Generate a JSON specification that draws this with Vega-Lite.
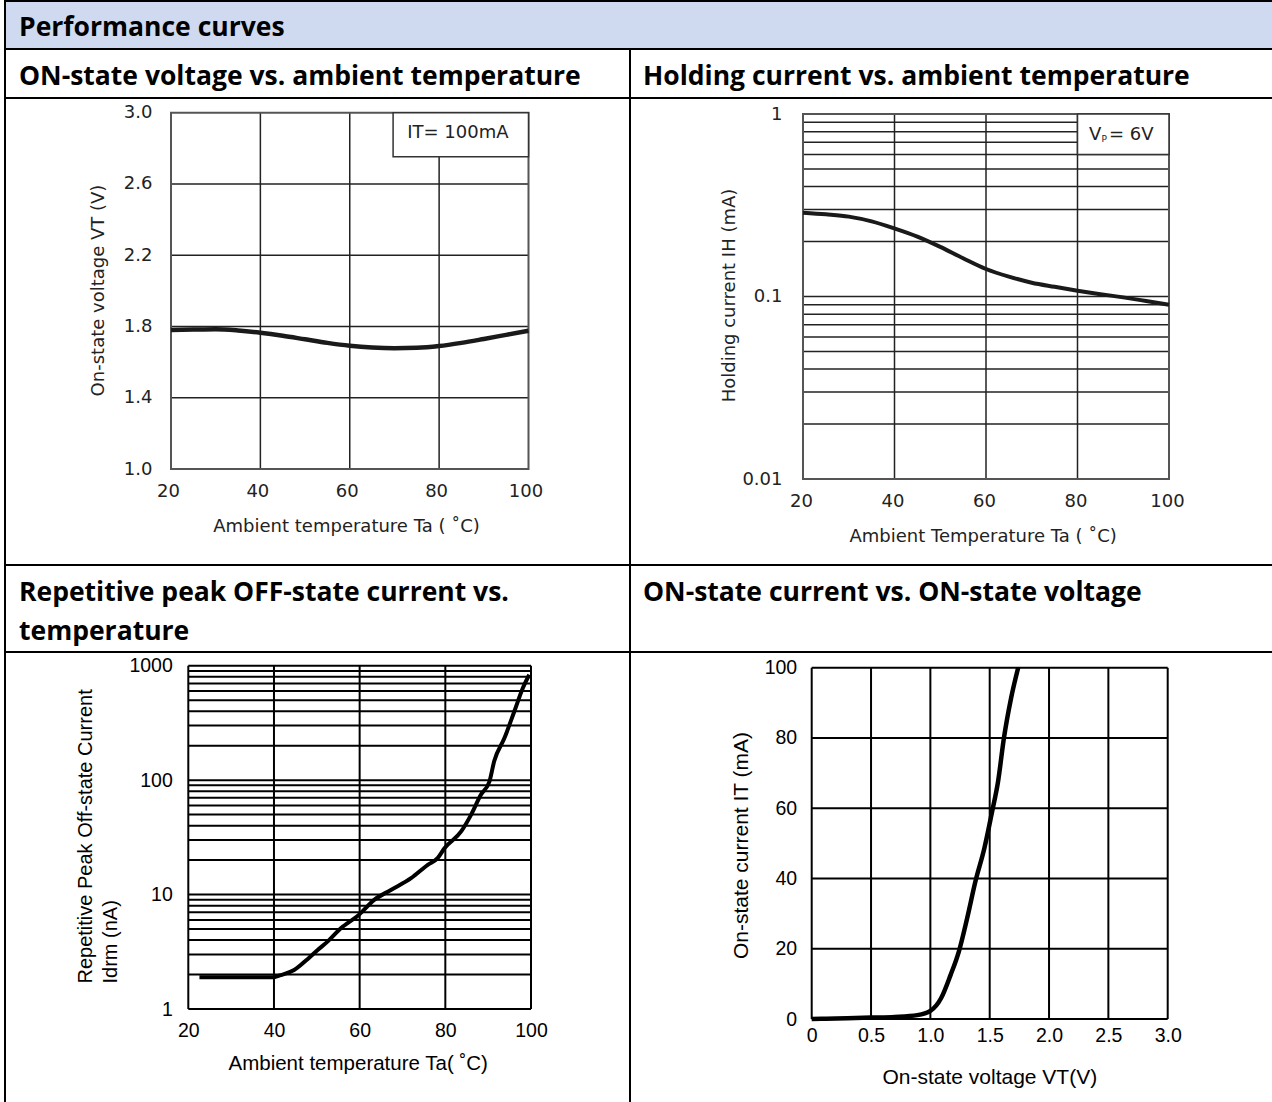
{
  "$schema": "https://vega.github.io/schema/vega-lite/v6.json",
  "background": "white",
  "autosize": {"type": "none"},
  "padding": {"left": 5, "top": 1, "right": 1267, "bottom": 1101},
  "config": {
    "view": {"stroke": "#000", "strokeWidth": 2},
    "title": {"font": "Open Sans", "fontWeight": "bold", "fontSize": 26.5, "color": "#000", "anchor": "start", "frame": "group", "baseline": "alphabetic", "offset": -41, "lineHeight": 39},
    "axis": {"grid": false, "domain": false, "ticks": false, "tickSize": 0, "labelFlush": false, "labelOverlap": false, "titleFontWeight": "normal", "labelColor": "#222", "titleColor": "#222", "labelFont": "DejaVu Sans", "titleFont": "DejaVu Sans", "labelFontSize": 18, "titleFontSize": 18}
  },
  "datasets": {
    "A_gx": [{"x": 40}, {"x": 60}, {"x": 80}],
    "A_gy": [{"y": 1.4}, {"y": 1.8}, {"y": 2.2}, {"y": 2.6}],
    "A_curve": [{"x": 20, "y": 1.78}, {"x": 25, "y": 1.783}, {"x": 30, "y": 1.785}, {"x": 35, "y": 1.778}, {"x": 40, "y": 1.765}, {"x": 45, "y": 1.748}, {"x": 50, "y": 1.728}, {"x": 55, "y": 1.708}, {"x": 60, "y": 1.692}, {"x": 65, "y": 1.682}, {"x": 70, "y": 1.678}, {"x": 75, "y": 1.68}, {"x": 80, "y": 1.69}, {"x": 85, "y": 1.708}, {"x": 90, "y": 1.73}, {"x": 95, "y": 1.753}, {"x": 100, "y": 1.776}],
    "B_gx": [{"x": 40}, {"x": 60}, {"x": 80}],
    "B_gy": [{"y": 0.02}, {"y": 0.03}, {"y": 0.04}, {"y": 0.05}, {"y": 0.06}, {"y": 0.07}, {"y": 0.08}, {"y": 0.09}, {"y": 0.1}, {"y": 0.2}, {"y": 0.3}, {"y": 0.4}, {"y": 0.5}, {"y": 0.6}, {"y": 0.7}, {"y": 0.8}, {"y": 0.9}],
    "B_curve": [{"x": 20, "y": 0.288}, {"x": 25, "y": 0.282}, {"x": 30, "y": 0.274}, {"x": 35, "y": 0.258}, {"x": 40, "y": 0.236}, {"x": 45, "y": 0.213}, {"x": 50, "y": 0.187}, {"x": 55, "y": 0.162}, {"x": 60, "y": 0.1415}, {"x": 65, "y": 0.1285}, {"x": 70, "y": 0.119}, {"x": 75, "y": 0.113}, {"x": 80, "y": 0.1076}, {"x": 85, "y": 0.103}, {"x": 90, "y": 0.0989}, {"x": 95, "y": 0.0945}, {"x": 100, "y": 0.0902}],
    "C_gx": [{"x": 20}, {"x": 40}, {"x": 60}, {"x": 80}, {"x": 100}],
    "C_gy": [{"y": 1}, {"y": 2}, {"y": 3}, {"y": 4}, {"y": 5}, {"y": 6}, {"y": 7}, {"y": 8}, {"y": 9}, {"y": 10}, {"y": 20}, {"y": 30}, {"y": 40}, {"y": 50}, {"y": 60}, {"y": 70}, {"y": 80}, {"y": 90}, {"y": 100}, {"y": 200}, {"y": 300}, {"y": 400}, {"y": 500}, {"y": 600}, {"y": 700}, {"y": 800}, {"y": 900}, {"y": 1000}],
    "C_curve": [{"x": 22.6, "y": 1.89}, {"x": 30, "y": 1.89}, {"x": 39.6, "y": 1.89}, {"x": 41.6, "y": 1.98}, {"x": 44.7, "y": 2.19}, {"x": 47.9, "y": 2.74}, {"x": 50.2, "y": 3.28}, {"x": 52.5, "y": 3.88}, {"x": 55.6, "y": 5.08}, {"x": 59.8, "y": 6.64}, {"x": 63.4, "y": 8.98}, {"x": 67.3, "y": 10.98}, {"x": 72, "y": 13.9}, {"x": 75.9, "y": 18.2}, {"x": 78.2, "y": 20.8}, {"x": 79.8, "y": 25.4}, {"x": 83.7, "y": 35.6}, {"x": 86, "y": 49.7}, {"x": 88.3, "y": 74.5}, {"x": 90.3, "y": 97.3}, {"x": 91.4, "y": 146}, {"x": 93.8, "y": 233}, {"x": 96.1, "y": 398}, {"x": 98.1, "y": 638}, {"x": 99.6, "y": 834}],
    "D_gx": [{"x": 0}, {"x": 0.5}, {"x": 1.0}, {"x": 1.5}, {"x": 2.0}, {"x": 2.5}, {"x": 3.0}],
    "D_gy": [{"y": 0}, {"y": 20}, {"y": 40}, {"y": 60}, {"y": 80}, {"y": 100}],
    "D_curve": [{"x": 0, "y": 0}, {"x": 0.1, "y": 0.1}, {"x": 0.3, "y": 0.2}, {"x": 0.5, "y": 0.4}, {"x": 0.7, "y": 0.6}, {"x": 0.89, "y": 1.1}, {"x": 1.0, "y": 2.3}, {"x": 1.09, "y": 5.9}, {"x": 1.17, "y": 12.5}, {"x": 1.24, "y": 19.2}, {"x": 1.31, "y": 28.7}, {"x": 1.38, "y": 39.2}, {"x": 1.455, "y": 48.6}, {"x": 1.52, "y": 59}, {"x": 1.57, "y": 67.5}, {"x": 1.62, "y": 80}, {"x": 1.68, "y": 91.3}, {"x": 1.74, "y": 100}]
  },
  "vconcat": [
    {
      "width": 1270, "height": 48,
      "view": {"fill": "#CFDAF0", "stroke": "#000", "strokeWidth": 2},
      "title": {"text": "Performance curves", "dx": 14, "offset": -40},
      "data": {"values": [{}]},
      "mark": {"type": "text"},
      "encoding": {"text": {"value": ""}}
    },
    {
      "hconcat": [
        {"width": 625, "height": 49, "view": {"stroke": "#000", "strokeWidth": 2}, "title": {"text": "ON-state voltage vs. ambient temperature", "dx": 14}, "data": {"values": [{}]}, "mark": {"type": "text"}, "encoding": {"text": {"value": ""}}},
        {"width": 645, "height": 49, "view": {"stroke": "#000", "strokeWidth": 2}, "title": {"text": "Holding current vs. ambient temperature", "dx": 13}, "data": {"values": [{}]}, "mark": {"type": "text"}, "encoding": {"text": {"value": ""}}}
      ],
      "spacing": 0, "bounds": "flush", "align": "none"
    },
    {
      "hconcat": [
        {
          "width": 625, "height": 467,
          "view": {"stroke": "#000", "strokeWidth": 2},
          "layer": [
            {
              "data": {"name": "A_gx"},
              "mark": {"type": "rule", "color": "#222", "strokeWidth": 1.5},
              "encoding": {
                "x": {"field": "x", "type": "quantitative",
                  "scale": {"domain": [20, 100], "range": [166, 523.5], "nice": false, "zero": false},
                  "axis": {"orient": "bottom", "offset": -96, "values": [20, 40, 60, 80, 100], "format": "d", "labelPadding": 13, "labelOffset": -3, "title": "Ambient temperature Ta ( ˚C)", "titleX": 341, "titleY": 57, "titleAlign": "center", "titleBaseline": "middle"}},
                "y": {"datum": 1.0, "type": "quantitative",
                  "scale": {"domain": [1, 3], "range": [371, 14.7], "nice": false, "zero": false},
                  "axis": {"orient": "left", "offset": -166, "values": [1.0, 1.4, 1.8, 2.2, 2.6, 3.0], "format": ".1f", "labelPadding": 19, "title": "On-state voltage VT (V)", "titleX": -73, "titleY": 192, "titleAngle": 270, "titleAlign": "center", "titleBaseline": "middle"}},
                "y2": {"datum": 3.0}
              }
            },
            {
              "data": {"name": "A_gy"},
              "mark": {"type": "rule", "color": "#222", "strokeWidth": 1.5},
              "encoding": {
                "y": {"field": "y", "type": "quantitative"},
                "x": {"datum": 20, "type": "quantitative"},
                "x2": {"datum": 100}
              }
            },
            {
              "data": {"values": [{}]},
              "mark": {"type": "rect", "fillOpacity": 0, "stroke": "#555", "strokeWidth": 2},
              "encoding": {"x": {"datum": 20, "type": "quantitative"}, "x2": {"datum": 100}, "y": {"datum": 1.0, "type": "quantitative"}, "y2": {"datum": 3.0}}
            },
            {
              "data": {"values": [{}]},
              "mark": {"type": "rect", "fill": "white", "stroke": "#333", "strokeWidth": 1.5},
              "encoding": {"x": {"datum": 69.7, "type": "quantitative"}, "x2": {"datum": 100}, "y": {"datum": 2.753, "type": "quantitative"}, "y2": {"datum": 3.0}}
            },
            {
              "data": {"values": [{"label": "IT= 100mA"}]},
              "mark": {"type": "text", "font": "DejaVu Sans", "fontSize": 18, "color": "#222", "align": "center", "baseline": "middle"},
              "encoding": {"text": {"field": "label"}, "x": {"datum": 84.2, "type": "quantitative"}, "y": {"datum": 2.884, "type": "quantitative"}}
            },
            {
              "data": {"name": "A_curve"},
              "mark": {"type": "line", "color": "#1a1a1a", "strokeWidth": 4.5, "interpolate": "monotone"},
              "encoding": {"x": {"field": "x", "type": "quantitative"}, "y": {"field": "y", "type": "quantitative"}}
            }
          ]
        },
        {
          "width": 645, "height": 467,
          "view": {"stroke": "#000", "strokeWidth": 2},
          "layer": [
            {
              "data": {"name": "B_gx"},
              "mark": {"type": "rule", "color": "#222", "strokeWidth": 1.5},
              "encoding": {
                "x": {"field": "x", "type": "quantitative",
                  "scale": {"domain": [20, 100], "range": [173, 539], "nice": false, "zero": false},
                  "axis": {"orient": "bottom", "offset": -86, "values": [20, 40, 60, 80, 100], "format": "d", "labelPadding": 13, "labelOffset": -2, "title": "Ambient Temperature Ta ( ˚C)", "titleX": 352.7, "titleY": 57.7, "titleAlign": "center", "titleBaseline": "middle"}},
                "y": {"datum": 0.01, "type": "quantitative",
                  "scale": {"type": "log", "domain": [0.01, 1], "range": [381, 16], "nice": false},
                  "axis": {"orient": "left", "offset": -173, "values": [0.01, 0.1, 1], "labelExpr": "datum.value >= 0.99 ? '1' : datum.value >= 0.099 ? '0.1' : '0.01'", "labelPadding": 21, "title": "Holding current IH (mA)", "titleX": -74, "titleY": 197, "titleAngle": 270, "titleAlign": "center", "titleBaseline": "middle"}},
                "y2": {"datum": 1}
              }
            },
            {
              "data": {"name": "B_gy"},
              "mark": {"type": "rule", "color": "#222", "strokeWidth": 1.5},
              "encoding": {
                "y": {"field": "y", "type": "quantitative"},
                "x": {"datum": 20, "type": "quantitative"},
                "x2": {"datum": 100}
              }
            },
            {
              "data": {"values": [{}]},
              "mark": {"type": "rect", "fillOpacity": 0, "stroke": "#555", "strokeWidth": 2},
              "encoding": {"x": {"datum": 20, "type": "quantitative"}, "x2": {"datum": 100}, "y": {"datum": 0.01, "type": "quantitative"}, "y2": {"datum": 1}}
            },
            {
              "data": {"values": [{}]},
              "mark": {"type": "rect", "fill": "white", "stroke": "#333", "strokeWidth": 1.5},
              "encoding": {"x": {"datum": 80, "type": "quantitative"}, "x2": {"datum": 100}, "y": {"datum": 0.6, "type": "quantitative"}, "y2": {"datum": 1}}
            },
            {
              "data": {"values": [{"label": "V"}]},
              "mark": {"type": "text", "font": "DejaVu Sans", "fontSize": 18, "color": "#222", "align": "left", "baseline": "middle"},
              "encoding": {"text": {"field": "label"}, "x": {"datum": 82.5, "type": "quantitative"}, "y": {"datum": 0.767, "type": "quantitative"}}
            },
            {
              "data": {"values": [{"label": "P"}]},
              "mark": {"type": "text", "font": "DejaVu Sans", "fontSize": 9, "color": "#222", "align": "left", "baseline": "middle", "dx": 12.5, "dy": 4},
              "encoding": {"text": {"field": "label"}, "x": {"datum": 82.5, "type": "quantitative"}, "y": {"datum": 0.767, "type": "quantitative"}}
            },
            {
              "data": {"values": [{"label": "= 6V"}]},
              "mark": {"type": "text", "font": "DejaVu Sans", "fontSize": 18, "color": "#222", "align": "left", "baseline": "middle", "dx": 20},
              "encoding": {"text": {"field": "label"}, "x": {"datum": 82.5, "type": "quantitative"}, "y": {"datum": 0.767, "type": "quantitative"}}
            },
            {
              "data": {"name": "B_curve"},
              "mark": {"type": "line", "color": "#1a1a1a", "strokeWidth": 4, "interpolate": "monotone"},
              "encoding": {"x": {"field": "x", "type": "quantitative"}, "y": {"field": "y", "type": "quantitative"}}
            }
          ]
        }
      ],
      "spacing": 0, "bounds": "flush", "align": "none"
    },
    {
      "hconcat": [
        {"width": 625, "height": 87, "view": {"stroke": "#000", "strokeWidth": 2}, "title": {"text": ["Repetitive peak OFF-state current vs.", "temperature"], "dx": 14, "offset": -80}, "data": {"values": [{}]}, "mark": {"type": "text"}, "encoding": {"text": {"value": ""}}},
        {"width": 645, "height": 87, "view": {"stroke": "#000", "strokeWidth": 2}, "title": {"text": "ON-state current vs. ON-state voltage", "dx": 13}, "data": {"values": [{}]}, "mark": {"type": "text"}, "encoding": {"text": {"value": ""}}}
      ],
      "spacing": 0, "bounds": "flush", "align": "none"
    },
    {
      "hconcat": [
        {
          "width": 625, "height": 452,
          "view": {"stroke": "#000", "strokeWidth": 2},
          "layer": [
            {
              "data": {"name": "C_gx"},
              "mark": {"type": "rule", "color": "#000", "strokeWidth": 2},
              "encoding": {
                "x": {"field": "x", "type": "quantitative",
                  "scale": {"domain": [20, 100], "range": [183.3, 526], "nice": false, "zero": false},
                  "axis": {"orient": "bottom", "offset": -95, "values": [20, 40, 60, 80, 100], "format": "d", "labelPadding": 12, "labelFont": "Liberation Sans", "labelFontSize": 19.5, "labelColor": "#000", "title": "Ambient temperature Ta( ˚C)", "titleFont": "Liberation Sans", "titleFontSize": 20.5, "titleColor": "#000", "titleX": 352.7, "titleY": 54, "titleAlign": "center", "titleBaseline": "middle"}},
                "y": {"datum": 1, "type": "quantitative",
                  "scale": {"type": "log", "domain": [1, 1000], "range": [357, 13.7], "nice": false},
                  "axis": {"orient": "left", "offset": -183.3, "values": [1, 10, 100, 1000], "format": "d", "labelPadding": 16, "labelFont": "Liberation Sans", "labelFontSize": 19.5, "labelColor": "#000", "title": ["Repetitive Peak Off-state Current", "Idrm (nA)"], "titleFont": "Liberation Sans", "titleFontSize": 20, "titleColor": "#000", "titleLineHeight": 25, "titleX": -96.5, "titleY": 331, "titleAngle": 270, "titleAlign": "left", "titleBaseline": "alphabetic"}},
                "y2": {"datum": 1000}
              }
            },
            {
              "data": {"name": "C_gy"},
              "mark": {"type": "rule", "color": "#000", "strokeWidth": 2},
              "encoding": {
                "y": {"field": "y", "type": "quantitative"},
                "x": {"datum": 20, "type": "quantitative"},
                "x2": {"datum": 100}
              }
            },
            {
              "data": {"name": "C_curve"},
              "mark": {"type": "line", "color": "#000", "strokeWidth": 4, "interpolate": "monotone"},
              "encoding": {"x": {"field": "x", "type": "quantitative"}, "y": {"field": "y", "type": "quantitative"}}
            }
          ]
        },
        {
          "width": 645, "height": 452,
          "view": {"stroke": "#000", "strokeWidth": 2},
          "layer": [
            {
              "data": {"name": "D_gx"},
              "mark": {"type": "rule", "color": "#000", "strokeWidth": 2},
              "encoding": {
                "x": {"field": "x", "type": "quantitative",
                  "scale": {"domain": [0, 3], "range": [181.7, 537.7], "nice": false, "zero": false},
                  "axis": {"orient": "bottom", "offset": -85, "values": [0, 0.5, 1.0, 1.5, 2.0, 2.5, 3.0], "labelExpr": "datum.value == 0 ? '0' : format(datum.value, '.1f')", "labelPadding": 7, "labelFont": "Liberation Sans", "labelFontSize": 19.5, "labelColor": "#000", "title": "On-state voltage VT(V)", "titleFont": "Liberation Sans", "titleFontSize": 21, "titleColor": "#000", "titleX": 359.3, "titleY": 58, "titleAlign": "center", "titleBaseline": "middle"}},
                "y": {"datum": 0, "type": "quantitative",
                  "scale": {"domain": [0, 100], "range": [367, 15.7], "nice": false, "zero": false},
                  "axis": {"orient": "left", "offset": -181.7, "values": [0, 20, 40, 60, 80, 100], "format": "d", "labelPadding": 15, "labelFont": "Liberation Sans", "labelFontSize": 19.5, "labelColor": "#000", "title": "On-state current IT (mA)", "titleFont": "Liberation Sans", "titleFontSize": 21, "titleColor": "#000", "titleX": -70.7, "titleY": 193, "titleAngle": 270, "titleAlign": "center", "titleBaseline": "middle"}},
                "y2": {"datum": 100}
              }
            },
            {
              "data": {"name": "D_gy"},
              "mark": {"type": "rule", "color": "#000", "strokeWidth": 2},
              "encoding": {
                "y": {"field": "y", "type": "quantitative"},
                "x": {"datum": 0, "type": "quantitative"},
                "x2": {"datum": 3}
              }
            },
            {
              "data": {"name": "D_curve"},
              "mark": {"type": "line", "color": "#000", "strokeWidth": 4.5, "interpolate": "monotone"},
              "encoding": {"x": {"field": "x", "type": "quantitative"}, "y": {"field": "y", "type": "quantitative"}}
            }
          ]
        }
      ],
      "spacing": 0, "bounds": "flush", "align": "none"
    }
  ],
  "spacing": -2, "bounds": "full", "align": "none"
}
